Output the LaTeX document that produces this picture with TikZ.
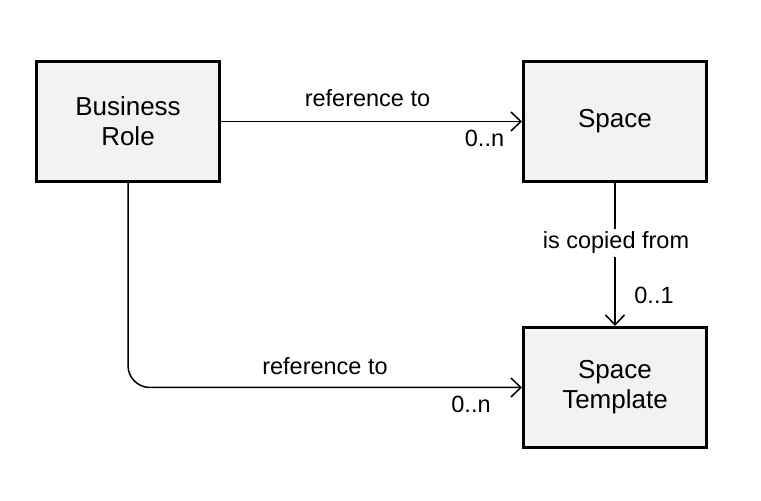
\documentclass[tikz,border=0pt]{standalone}
\usepackage{fontspec}
\setmainfont{Liberation Sans}
\usetikzlibrary{positioning,arrows.meta}

\tikzset{
  entity/.style={draw,line width=3pt,fill=gray!10,minimum width=183pt,minimum height=120pt,
    align=center,font=\fontsize{26}{30}\selectfont},
  conn/.style={line width=1.5pt,-{Straight Barb[length=10pt,width=19pt]}},
  lbl/.style={font=\fontsize{23.5}{28}\selectfont,anchor=base,inner sep=0pt}
}

\begin{document}
\begin{tikzpicture}[x=1pt,y=1pt]
\useasboundingbox (0,0) rectangle (761,501);
% entities
\node[entity] (role) at (128,379.5) {Business\\Role};
\node[entity,right=301pt of role] (space) {Space};
\node[entity,below=143pt of space] (tmpl) {Space\\Template};
% relations
\draw[conn] (role) -- (space);
\draw[conn,rounded corners=22pt] (role.south) |- (tmpl.west);
\draw[conn] (space) -- (tmpl);
% labels
\node[lbl] (refA) at (367.5,394) {reference to};
\node[lbl] (mulA) at (484.5,354) {0..n};
\node[lbl] (refB) at (325,126) {reference to};
\node[lbl] (mulB) at (471,88) {0..n};
\node[lbl,fill=white,inner sep=3pt] (copy) at (616,252) {is copied from};
\node[lbl] (mulC) at (654,197) {0..1};
\end{tikzpicture}
\end{document}
